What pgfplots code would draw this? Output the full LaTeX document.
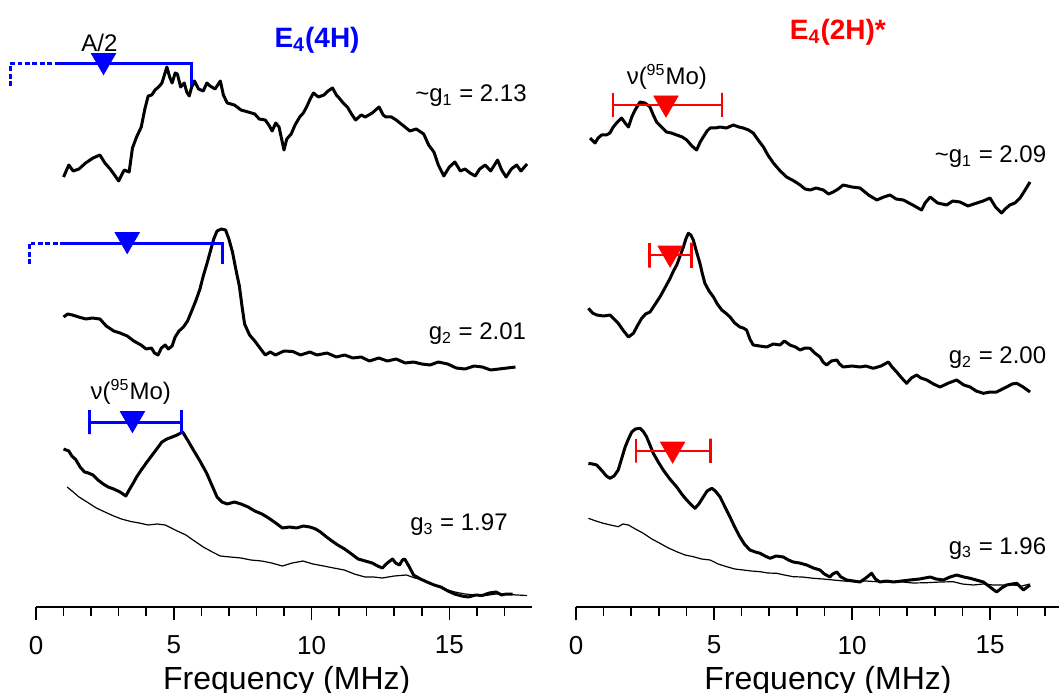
\documentclass[border=0pt]{standalone}
\usepackage{fontspec}
\setmainfont{Liberation Sans}
\usepackage{pgfplots}
\pgfplotsset{compat=1.18}

% 1 px of the reference = 0.5pt; y data = pixel rows above the frequency axis
\pgfplotsset{
  panel/.style={
    scale only axis, clip=false,
    height=303.5pt, ymin=0, ymax=607,
    axis y line=none, axis x line*=bottom,
    x axis line style={line width=1pt},
    xtick={0,5,10,15},
    minor xtick={1,2,3,4,6,7,8,9,11,12,13,14,16,17},
    tick align=outside,
    major tick length=6.5pt, minor tick length=4.5pt,
    every major tick/.append style={black, line width=0.8pt},
    every minor tick/.append style={black, line width=0.8pt},
    tick label style={font=\fontsize{13}{15}\selectfont},
    xticklabel style={yshift=-4.5pt},
    /pgf/number format/assume math mode=true,
  },
  thk/.style={black, line width=1.5pt, line join=round},
  thn/.style={black, line width=0.6pt, line join=round},
  tri/.style={only marks, mark=triangle*, mark size=7pt,
    mark options={rotate=180, fill=#1, draw=#1}},
  brk/.style={blue, line width=1.5pt, dash pattern=on 2.4pt off 1.3pt},
}
\tikzset{lab/.style={font=\fontsize{12}{14}\selectfont, inner sep=0pt}}

\begin{document}
\begin{tikzpicture}[x=1pt,y=1pt]
\useasboundingbox (0,0) rectangle (530,346);

% ---------------- E4(4H) ----------------
\begin{axis}[panel, at={(18pt,42.5pt)}, anchor=south west,
  width=248pt, xmin=0, xmax=18]

% g1
\addplot[thk] coordinates {
(1.0,430)(1.19,442)(1.35,436)(1.56,438)(1.8,444)(2.07,449)(2.32,452)(2.5,444)
(2.69,438)(2.85,432)(3.0,426)(3.2,437)(3.38,435)(3.5,459)(3.65,470)(3.82,480)
(3.95,498)(4.07,511)(4.2,512)(4.32,517)(4.45,520)(4.57,524)(4.75,540)(4.85,530)
(4.94,524)(5.05,534)(5.13,533)(5.25,520)(5.38,524)(5.47,515)(5.56,511)(5.65,520)
(5.75,526)(5.9,518)(6.07,516)(6.2,524)(6.32,521)(6.5,518)(6.69,526)(6.8,512)
(6.94,504)(7.2,502)(7.44,497)(7.7,495)(7.94,493)(8.1,488)(8.32,487)(8.45,482)
(8.57,476)(8.7,484)(8.82,480)(9.0,457)(9.1,468)(9.26,473)(9.4,482)(9.57,490)
(9.7,494)(9.82,500)(9.95,508)(10.07,514)(10.25,510)(10.45,512)(10.6,516)(10.76,519)
(10.9,512)(11.0,509)(11.15,504)(11.3,500)(11.45,493)(11.6,487)(11.8,492)(11.95,490)
(12.2,494)(12.45,500)(12.6,492)(12.7,490)(12.9,490)(13.07,487)(13.3,482)(13.57,476)
(13.8,478)(14.07,473)(14.25,462)(14.44,455)(14.6,442)(14.8,431)(15.0,440)(15.2,445)
(15.4,436)(15.57,438)(15.75,434)(15.94,431)(16.1,438)(16.3,442)(16.5,436)(16.75,447)
(16.9,437)(17.06,430)(17.25,438)(17.44,442)(17.6,436)(17.82,443)
};
\addplot[brk] coordinates {(-0.94,521)(-0.94,543)(0.76,543)};
\addplot[blue, line width=1.5pt] coordinates {
(0.76,543)(5.63,543)(5.63,521)};
\addplot[tri=blue] coordinates {(2.45,546.5)};
\node[lab, anchor=center] at (axis cs:2.3,564) {A/2};
\node[lab, anchor=east] at (axis cs:17.82,511) {\textasciitilde g\textsubscript{1} = 2.13};

% g2
\addplot[thk] coordinates {
(1.0,290)(1.15,293)(1.32,292)(1.55,290)(1.81,288)(2.05,289)(2.32,288)(2.55,281)
(2.82,276)(3.05,274)(3.31,271)(3.55,266)(3.81,262)(4.0,258)(4.19,259)(4.3,254)
(4.43,252)(4.55,259)(4.69,262)(4.8,258)(4.94,261)(5.05,270)(5.19,276)(5.35,280)
(5.5,286)(5.65,296)(5.81,307)(5.95,318)(6.07,331)(6.2,343)(6.32,355)(6.45,368)
(6.57,376)(6.72,378)(6.88,377)(7.0,368)(7.13,355)(7.25,338)(7.38,321)(7.48,300)
(7.57,283)(7.75,272)(7.94,266)(8.1,260)(8.32,252)(8.5,255)(8.69,252)(9.0,256)
(9.32,255.5)(9.6,252)(9.94,255)(10.2,252)(10.56,254)(10.9,250)(11.2,252)(11.5,249)
(11.8,250)(12.1,246)(12.44,249)(12.75,246)(13.07,248)(13.4,244)(13.7,245)(14.0,243)
(14.3,242)(14.6,245)(14.94,243)(15.25,239)(15.57,238)(15.9,241)(16.2,240)(16.5,237)
(16.8,238)(17.1,239)(17.4,240)
};
\addplot[brk] coordinates {(-0.24,343)(-0.24,364)(0.94,364)};
\addplot[blue, line width=1.5pt] coordinates {
(0.94,364)(6.75,364)(6.75,343)};
\addplot[tri=blue] coordinates {(3.31,367.5)};
\node[lab, anchor=east] at (axis cs:17.8,273) {g\textsubscript{2} = 2.01};

% g3
\addplot[thn] coordinates {
(1.13,120)(1.35,115)(1.56,110)(1.85,105)(2.19,99)(2.5,95)(2.82,91)(3.1,88)
(3.44,85.5)(3.75,84)(4.07,82)(4.4,83)(4.69,82)(5.05,77)(5.44,72)(5.75,66)
(6.07,60)(6.4,55)(6.69,51)(7.05,50)(7.44,49)(7.8,47)(8.19,46)(8.55,44)
(8.94,41)(9.3,44)(9.69,46)(10.05,43)(10.44,41)(10.8,39)(11.19,37)(11.55,33)
(11.94,30)(12.25,30)(12.57,29)(13.0,31)(13.44,32)(13.75,29)(14.07,27)(14.45,22)
(14.82,18)(15.2,15)(15.57,13)(15.95,12)(16.32,11.5)(16.7,13)(17.06,13)(17.45,12)
(17.82,11.5)
};
\addplot[thk] coordinates {
(1.0,158)(1.19,156)(1.3,151)(1.44,147.5)(1.6,140)(1.76,135)(1.9,134)(2.07,132)
(2.25,127)(2.44,123)(2.62,120)(2.82,118)(3.05,115)(3.26,111)(3.38,117)(3.51,123)
(3.65,130)(3.82,137)(4.0,144)(4.19,151)(4.38,158)(4.57,165)(4.75,168)(4.94,170)
(5.12,172)(5.32,175)(5.5,167)(5.69,158)(5.95,146)(6.19,134)(6.38,122)(6.57,110)
(6.75,105)(6.94,103)(7.2,105)(7.44,103)(7.7,100)(7.94,96)(8.2,93)(8.44,89)
(8.7,84)(8.94,79)(9.2,80)(9.45,79)(9.7,81)(9.94,80)(10.15,78)(10.32,75)
(10.5,71)(10.69,67)(10.95,62)(11.2,58)(11.45,53)(11.69,48)(11.95,46)(12.2,44)
(12.4,41)(12.57,39)(12.75,44)(12.94,48)(13.05,44)(13.19,42)(13.3,47)(13.38,48)
(13.55,40)(13.7,32)(13.95,28)(14.19,25)(14.45,22)(14.69,20)(14.95,16)(15.19,13)
(15.45,11)(15.69,10)(15.95,12)(16.19,11.5)(16.45,14)(16.7,15)(16.9,12)(17.06,13)
(17.3,13)
};
\addplot[blue, line width=1.5pt] coordinates {
(1.94,197)(1.94,173)(1.94,185)(5.29,185)(5.29,197)(5.29,173)};
\addplot[tri=blue] coordinates {(3.5,188.5)};
\node[lab, anchor=center] at (axis cs:3.44,215) {ν(\textsuperscript{95}Mo)};
\node[lab, anchor=east] at (axis cs:17.13,82) {g\textsubscript{3} = 1.97};

\node[anchor=center, text=blue, inner sep=0pt,
  font=\fontsize{14}{16}\selectfont\bfseries] at (axis cs:10.2,567)
  {E\textsubscript{4}(4H)};
\node[anchor=base, inner sep=0pt, font=\fontsize{16}{18}\selectfont]
  at (axis cs:9.1,-82) {Frequency (MHz)};
\end{axis}

% ---------------- E4(2H)* ----------------
\begin{axis}[panel, at={(288pt,42.5pt)}, anchor=south west,
  width=241.5pt, xmin=0, xmax=17.5]

% g1
\addplot[thk] coordinates {
(0.51,469)(0.69,464)(0.8,469)(0.93,472)(1.1,472)(1.23,474)(1.35,480)(1.47,484)
(1.65,489)(1.78,484)(1.9,480)(2.02,490)(2.14,497)(2.32,505)(2.5,504)(2.68,500)
(2.8,492)(2.92,485)(3.1,480)(3.28,475)(3.45,474)(3.65,472)(3.85,470)(4.01,467)
(4.2,461)(4.37,457)(4.5,465)(4.61,470)(4.75,476)(4.86,479)(5.05,479)(5.22,480)
(5.45,479)(5.7,482)(5.9,480)(6.06,479)(6.25,477)(6.42,474)(6.6,467)(6.79,460)
(6.95,452)(7.15,444)(7.4,436)(7.63,430)(7.9,426)(8.12,422)(8.3,418)(8.48,417)
(8.7,419)(8.96,417)(9.15,413)(9.32,415)(9.5,418)(9.68,422)(10.0,420)(10.29,419)
(10.6,412)(10.9,407)(11.15,410)(11.38,412)(11.6,408)(11.86,407)(12.2,402)(12.52,397)
(12.65,404)(12.83,410)(13.1,404)(13.43,402)(13.65,406)(13.91,405)(14.2,401)(14.52,404)
(14.75,406)(15.0,409)(15.2,400)(15.42,394)(15.55,398)(15.72,402)(15.9,404)(16.09,409)
(16.25,416)(16.45,425)
};
\addplot[red, line width=1.2pt] coordinates {
(1.33,514)(1.33,490)(1.33,502)(5.28,502)(5.28,514)(5.28,490)};
\addplot[tri=red] coordinates {(3.26,504)};
\node[lab, anchor=center] at (axis cs:3.29,530) {ν(\textsuperscript{95}Mo)};
\node[lab, anchor=east] at (axis cs:17.05,450) {\textasciitilde g\textsubscript{1} = 2.09};

% g2
\addplot[thk] coordinates {
(0.45,298.7)(0.6,294)(0.75,292)(1.0,291)(1.23,292)(1.38,288)(1.53,283.7)(1.7,277)
(1.9,270)(2.08,273.7)(2.22,281)(2.38,288.7)(2.52,293)(2.68,295)(2.85,302)(3.04,310)
(3.22,319)(3.41,328.7)(3.53,336)(3.65,342)(3.77,351)(3.89,360)(3.98,368)(4.07,373.7)
(4.16,372)(4.25,367)(4.37,355)(4.49,343.7)(4.58,333)(4.67,323.7)(4.82,316)(4.98,310)
(5.12,303)(5.28,297)(5.42,294)(5.58,290)(5.75,284)(5.94,280)(6.06,279)(6.18,277)
(6.3,268)(6.42,262)(6.65,261)(6.91,260)(7.15,263)(7.39,262)(7.55,266)(7.75,262)
(7.95,260)(8.12,257)(8.3,259)(8.48,258.7)(8.65,254)(8.84,250)(8.95,245)(9.08,242)
(9.25,246)(9.45,247)(9.55,243)(9.68,240)(10.0,241)(10.29,240)(10.5,241)(10.77,238.7)
(11.05,241)(11.32,245)(11.45,240)(11.62,235)(11.8,229)(11.98,223.7)(12.15,229)(12.34,232)
(12.5,229)(12.71,227)(12.95,223)(13.19,220)(13.5,224)(13.79,227)(14.05,222)(14.28,220)
(14.5,216)(14.76,213.7)(15.0,215)(15.24,215)(15.45,218)(15.6,220)(15.8,223)(15.97,223.7)
(16.2,220)(16.45,215)
};
\addplot[red, line width=1.2pt] coordinates {
(2.66,364.5)(2.66,339.5)(2.66,352)(4.19,352)(4.19,364.5)(4.19,339.5)};
\addplot[tri=red] coordinates {(3.41,354)};
\node[lab, anchor=east] at (axis cs:17.05,249) {g\textsubscript{2} = 2.00};

% g3
\addplot[thn] coordinates {
(0.45,88.7)(0.72,86)(0.99,83.7)(1.25,82)(1.53,80.3)(1.7,83)(1.9,82)(2.15,78)
(2.44,73.7)(2.75,68)(3.04,63.7)(3.35,59)(3.65,55.3)(3.95,52)(4.25,50.3)(4.55,48)
(4.86,47)(5.15,43)(5.46,40.3)(5.75,38)(6.06,37)(6.35,36)(6.67,35.3)(6.95,34)
(7.27,33.7)(7.55,32)(7.87,30.3)(8.2,30)(8.6,28.7)(8.95,28)(9.32,27)(9.7,26)
(10.05,25.3)(10.5,26)(10.9,25.3)(11.3,25)(11.74,25.3)(12.2,24)(12.71,24.3)(13.2,25)
(13.67,25.3)(14.0,23)(14.4,22)(14.75,23)(15.12,22)(15.5,22)(15.84,22)(16.15,21)
(16.45,23)
};
\addplot[thk] coordinates {
(0.45,143.7)(0.6,143)(0.75,142)(0.95,136)(1.1,131)(1.23,128.7)(1.38,131)(1.53,137)
(1.65,148)(1.78,160)(1.9,168)(2.02,175)(2.15,178)(2.32,178.7)(2.45,175)(2.56,170)
(2.68,162)(2.8,153.7)(2.98,145)(3.16,137)(3.4,128)(3.65,120)(3.83,113)(4.01,107)
(4.15,103)(4.31,98.7)(4.45,103)(4.61,110)(4.75,116)(4.92,118.7)(5.05,116)(5.22,110)
(5.4,100)(5.58,90)(5.75,80)(5.94,70)(6.1,63)(6.3,57)(6.5,55)(6.67,53.7)
(6.85,51)(7.03,48.7)(7.25,51)(7.51,50)(7.7,47)(7.87,45)(8.1,44)(8.36,42)
(8.6,39)(8.84,37)(9.0,33)(9.2,30)(9.3,33)(9.45,35)(9.6,30)(9.81,27)
(10.05,26)(10.29,25)(10.5,29)(10.71,33.7)(10.85,28)(11.01,25)(11.25,26)(11.5,25)
(11.8,26)(12.1,27)(12.45,28)(12.83,30)(13.05,28)(13.31,27)(13.55,30)(13.79,32)
(14.05,30)(14.28,28.7)(14.5,27)(14.76,25)(15.0,20)(15.24,15)(15.42,19)(15.6,22)
(15.8,23)(15.97,23.7)(16.1,20)(16.21,17)(16.35,20)(16.45,22)
};
\addplot[red, line width=1.2pt] coordinates {
(2.17,168.3)(2.17,144.3)(2.17,156.3)(4.88,156.3)(4.88,168.3)(4.88,144.3)};
\addplot[tri=red] coordinates {(3.5,158)};
\node[lab, anchor=east] at (axis cs:17.05,58.7) {g\textsubscript{3} = 1.96};

\node[anchor=center, text=red, inner sep=0pt,
  font=\fontsize{14}{16}\selectfont\bfseries] at (axis cs:9.49,575)
  {E\textsubscript{4}(2H)*};
\node[anchor=base, inner sep=0pt, font=\fontsize{16}{18}\selectfont]
  at (axis cs:9.13,-82) {Frequency (MHz)};
\end{axis}
\end{tikzpicture}
\end{document}
